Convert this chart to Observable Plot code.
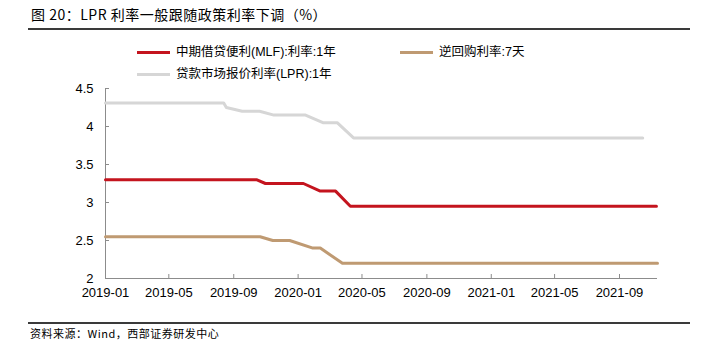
<!DOCTYPE html>
<html>
<head>
<meta charset="utf-8">
<script src="https://cdn.jsdelivr.net/npm/d3@7"></script>
<script src="https://cdn.jsdelivr.net/npm/@observablehq/plot@0.6"></script>
<style>
  body { margin: 0; background: #fff; }
  #wrap { position: relative; width: 701px; height: 351px; overflow: hidden; background: #fff;
          font-family: "Liberation Sans", "Noto Sans CJK SC", sans-serif; color: #000; }
  #title { position: absolute; left: 31px; top: 5px; font-size: 14px; letter-spacing: 0.5px;
           font-family: "Noto Sans CJK SC", sans-serif; white-space: nowrap; line-height: 18px; }
  .hr { position: absolute; left: 28px; width: 662px; height: 1.5px; background: #3a3a3a; }
  .lg { position: absolute; display: flex; align-items: center; white-space: nowrap;
        font-size: 12.5px; line-height: 16px; }
  .lg .sw { width: 33px; height: 3px; margin-right: 6px; }
  #foot { position: absolute; left: 30px; top: 326px; font-size: 11px; line-height: 14px; letter-spacing: 0.5px;
          font-family: "Noto Sans CJK SC", sans-serif; white-space: nowrap; }
  #chart { position: absolute; left: 0; top: 0; }
</style>
</head>
<body>
<div id="wrap">
  <div id="title"></div>
  <div class="hr" style="top:28px"></div>
  <div id="legend"></div>
  <div id="chart"></div>
  <div class="hr" style="top:322px"></div>
  <div id="foot"></div>
</div>
<script>
// ---- text ----
const titleText = "图 20：LPR 利率一般跟随政策利率下调（%）";
const sourceText = "资料来源：Wind，西部证券研发中心";
const seriesNames = ["中期借贷便利(MLF):利率:1年", "逆回购利率:7天", "贷款市场报价利率(LPR):1年"];
const seriesColors = ["#C4141E", "#BF9A72", "#D6D6D6"];

// ---- axis ticks ----
const xTickLabels = ["2019-01", "2019-05", "2019-09", "2020-01", "2020-05", "2020-09", "2021-01", "2021-05", "2021-09"];
const yTicks = [2, 2.5, 3, 3.5, 4, 4.5];
const xDomain = ["2019-01-01", "2021-11-12"];
const yDomain = [2, 4.5];

// ---- series ----
const mlfDates = ["2019-01-01", "2019-10-14", "2019-10-31", "2020-01-11", "2020-02-12", "2020-03-12", "2020-04-09", "2021-11-10"];
const mlfValues = [3.30, 3.30, 3.25, 3.25, 3.15, 3.15, 2.95, 2.95];

const repoDates = ["2019-01-01", "2019-10-21", "2019-11-14", "2019-12-16", "2020-01-29", "2020-02-12", "2020-03-25", "2021-11-12"];
const repoValues = [2.55, 2.55, 2.50, 2.50, 2.40, 2.40, 2.20, 2.20];

const lprDates = ["2019-01-01", "2019-08-13", "2019-08-18", "2019-09-17", "2019-10-20", "2019-11-16", "2020-01-15", "2020-02-17", "2020-03-15", "2020-04-15", "2021-10-15"];
const lprValues = [4.31, 4.31, 4.25, 4.20, 4.20, 4.15, 4.15, 4.05, 4.05, 3.85, 3.85];

// ---- build ----
const parse = d3.utcParse("%Y-%m-%d");
const toRows = (ds, vs) => ds.map((d, i) => ({date: parse(d), value: vs[i]}));
const mlf = toRows(mlfDates, mlfValues);
const repo = toRows(repoDates, repoValues);
const lpr = toRows(lprDates, lprValues);
const xTicks = xTickLabels.map(s => d3.utcParse("%Y-%m")(s));

document.getElementById("title").textContent = titleText;
document.getElementById("foot").textContent = sourceText;

const legendPos = [{left: 137, top: 44}, {left: 400, top: 44}, {left: 137, top: 66}];
const legend = document.getElementById("legend");
seriesNames.forEach((n, i) => {
  const el = document.createElement("div");
  el.className = "lg";
  el.style.left = legendPos[i].left + "px";
  el.style.top = legendPos[i].top + "px";
  const sw = document.createElement("span");
  sw.className = "sw";
  sw.style.background = seriesColors[i];
  const tx = document.createElement("span");
  tx.textContent = n;
  el.appendChild(sw); el.appendChild(tx);
  legend.appendChild(el);
});

const W = 701, H = 351;
const mL = 105, mR = 44, mT = 88, mB = 73;
const plotW = W - mL - mR, plotH = H - mT - mB;
const axisColor = "#8c8c8c";

const chart = Plot.plot({
  width: W,
  height: H,
  marginLeft: mL, marginRight: mR, marginTop: mT, marginBottom: mB,
  style: {fontSize: "13px", fontFamily: "Liberation Sans, Arial, sans-serif", color: "#000", background: "transparent"},
  x: {type: "utc", domain: xDomain.map(parse)},
  y: {domain: yDomain},
  marks: [
    Plot.ruleX([parse(xDomain[0])], {stroke: axisColor, strokeWidth: 1}),
    Plot.ruleY([yDomain[0]], {stroke: axisColor, strokeWidth: 1}),
    Plot.tickX(xTicks, {x: d => d, stroke: axisColor, insetTop: plotH - 4}),
    Plot.tickY(yTicks, {y: d => d, stroke: axisColor, insetRight: plotW - 4}),
    Plot.line(lpr, {x: "date", y: "value", stroke: seriesColors[2], strokeWidth: 3}),
    Plot.line(repo, {x: "date", y: "value", stroke: seriesColors[1], strokeWidth: 3}),
    Plot.line(mlf, {x: "date", y: "value", stroke: seriesColors[0], strokeWidth: 3}),
    Plot.axisX(xTicks, {tickSize: 0, tickPadding: 9, tickFormat: d3.utcFormat("%Y-%m"), label: null, fill: "#000"}),
    Plot.axisY(yTicks, {tickSize: 0, tickPadding: 12, tickFormat: d => String(d), label: null, fill: "#000"})
  ]
});
document.getElementById("chart").appendChild(chart);
</script>
</body>
</html>
